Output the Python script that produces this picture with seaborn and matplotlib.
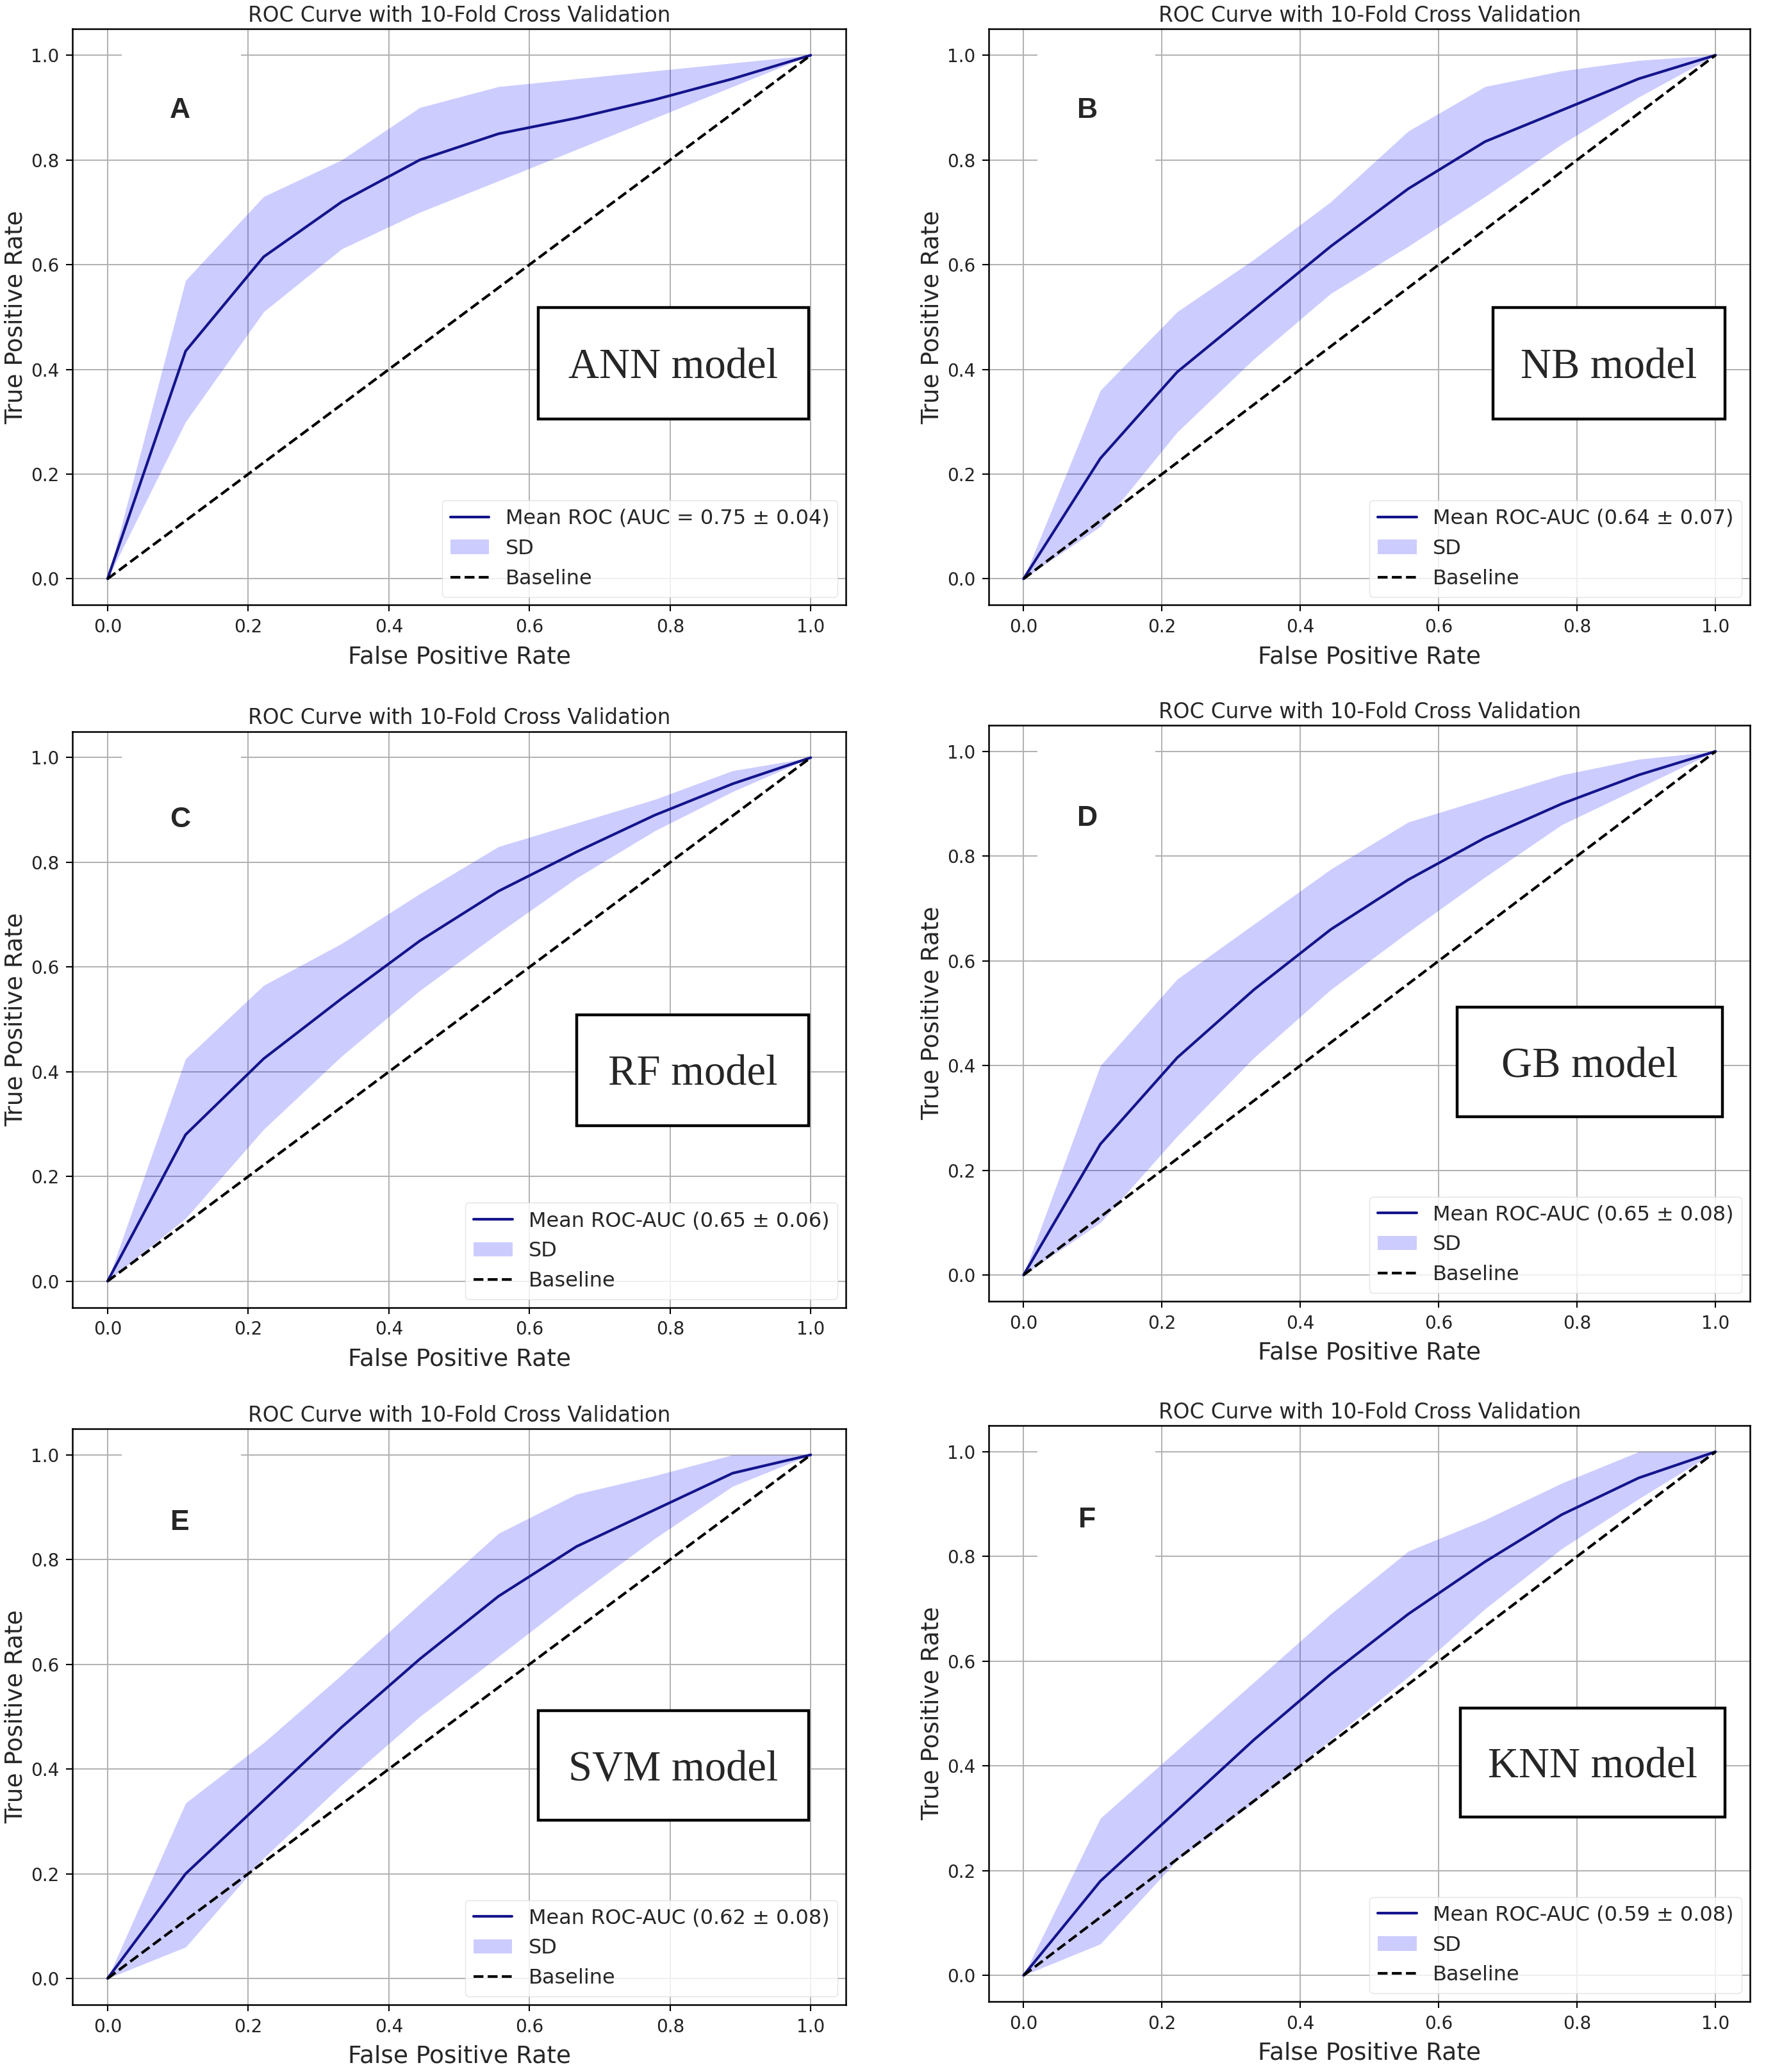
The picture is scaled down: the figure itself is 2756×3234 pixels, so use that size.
import numpy as np
import matplotlib
matplotlib.use("Agg")
import matplotlib.pyplot as plt
from matplotlib.patches import Rectangle
from matplotlib.lines import Line2D
from matplotlib.patches import Patch
import seaborn as sns

# false positive rate grid (10-fold interpolation points)
fpr = [0.0, 0.111, 0.222, 0.333, 0.444, 0.556, 0.667, 0.778, 0.889, 1.0]

panels = ["A", "B", "C", "D", "E", "F"]
models = ["ANN model", "NB model", "RF model", "GB model", "SVM model", "KNN model"]
auc_labels = [
    "Mean ROC (AUC = 0.75 ± 0.04)",
    "Mean ROC-AUC (0.64 ± 0.07)",
    "Mean ROC-AUC (0.65 ± 0.06)",
    "Mean ROC-AUC (0.65 ± 0.08)",
    "Mean ROC-AUC (0.62 ± 0.08)",
    "Mean ROC-AUC (0.59 ± 0.08)",
]

tpr_ann = [0.0, 0.435, 0.615, 0.72, 0.80, 0.85, 0.88, 0.915, 0.955, 1.0]
upper_ann = [0.0, 0.57, 0.73, 0.80, 0.90, 0.94, 0.955, 0.97, 0.985, 1.0]
lower_ann = [0.0, 0.30, 0.51, 0.63, 0.70, 0.76, 0.82, 0.88, 0.94, 1.0]

tpr_nb = [0.0, 0.23, 0.395, 0.515, 0.635, 0.745, 0.835, 0.895, 0.955, 1.0]
upper_nb = [0.0, 0.36, 0.51, 0.61, 0.72, 0.855, 0.94, 0.97, 0.99, 1.0]
lower_nb = [0.0, 0.10, 0.28, 0.42, 0.545, 0.635, 0.73, 0.83, 0.92, 1.0]

tpr_rf = [0.0, 0.28, 0.425, 0.54, 0.65, 0.745, 0.82, 0.89, 0.95, 1.0]
upper_rf = [0.0, 0.425, 0.565, 0.645, 0.74, 0.83, 0.875, 0.92, 0.975, 1.0]
lower_rf = [0.0, 0.12, 0.29, 0.43, 0.555, 0.665, 0.77, 0.86, 0.935, 1.0]

tpr_gb = [0.0, 0.25, 0.415, 0.545, 0.66, 0.755, 0.835, 0.90, 0.955, 1.0]
upper_gb = [0.0, 0.40, 0.565, 0.67, 0.775, 0.865, 0.91, 0.955, 0.985, 1.0]
lower_gb = [0.0, 0.10, 0.265, 0.415, 0.545, 0.655, 0.76, 0.86, 0.93, 1.0]

tpr_svm = [0.0, 0.20, 0.34, 0.48, 0.61, 0.73, 0.825, 0.895, 0.965, 1.0]
upper_svm = [0.0, 0.335, 0.45, 0.58, 0.715, 0.85, 0.925, 0.96, 1.0, 1.0]
lower_svm = [0.0, 0.06, 0.23, 0.37, 0.50, 0.615, 0.73, 0.84, 0.94, 1.0]

tpr_knn = [0.0, 0.18, 0.315, 0.45, 0.575, 0.69, 0.79, 0.88, 0.95, 1.0]
upper_knn = [0.0, 0.30, 0.43, 0.56, 0.69, 0.81, 0.87, 0.94, 1.0, 1.0]
lower_knn = [0.0, 0.06, 0.22, 0.33, 0.45, 0.57, 0.70, 0.815, 0.91, 1.0]

means = [tpr_ann, tpr_nb, tpr_rf, tpr_gb, tpr_svm, tpr_knn]
uppers = [upper_ann, upper_nb, upper_rf, upper_gb, upper_svm, upper_knn]
lowers = [lower_ann, lower_nb, lower_rf, lower_gb, lower_svm, lower_knn]

sns.set_theme(style="whitegrid")
plt.rcParams.update({
    "font.family": ["DejaVu Sans"],
    "axes.edgecolor": "black",
    "axes.linewidth": 1.8,
    "grid.color": "#b0b0b0",
    "grid.linewidth": 1.4,
    "xtick.bottom": True,
    "ytick.left": True,
    "xtick.major.size": 7,
    "ytick.major.size": 7,
    "xtick.major.width": 1.5,
    "ytick.major.width": 1.5,
    "xtick.color": "black",
    "ytick.color": "black",
    "xtick.labelcolor": "#222222",
    "ytick.labelcolor": "#222222",
})

fig = plt.figure(figsize=(27.56, 32.34), dpi=100)

# axes rectangles [left, bottom, width, height] in figure fraction
axes_pos = [
    [0.041, 0.708, 0.438, 0.278],
    [0.560, 0.708, 0.431, 0.278],
    [0.041, 0.369, 0.438, 0.278],
    [0.560, 0.372, 0.431, 0.278],
    [0.041, 0.0325, 0.438, 0.278],
    [0.560, 0.034, 0.431, 0.278],
]
# model name boxes [x0, y0, x1, y1] in axes fraction
box_pos = [
    [0.602, 0.323, 0.952, 0.516],
    [0.662, 0.323, 0.967, 0.516],
    [0.652, 0.316, 0.952, 0.508],
    [0.615, 0.320, 0.964, 0.510],
    [0.602, 0.320, 0.952, 0.510],
    [0.619, 0.320, 0.967, 0.510],
]
letter_pos = [(0.103, 0.894), (0.092, 0.894), (0.103, 0.881),
              (0.092, 0.872), (0.103, 0.871), (0.092, 0.869)]
cover_bottom = [0.82, 0.785, 0.82, 0.785, 0.82, 0.785]

for i in range(6):
    ax = fig.add_axes(axes_pos[i])
    sns.lineplot(x=fpr, y=means[i], ax=ax, color="#14148c", linewidth=3.0, zorder=4)
    ax.fill_between(fpr, lowers[i], uppers[i], color="blue", alpha=0.2, linewidth=0, zorder=3)
    sns.lineplot(x=[0, 1], y=[0, 1], ax=ax, color="black", linestyle="--", linewidth=3.0, zorder=4)

    ax.set_xlim(-0.05, 1.05)
    ax.set_ylim(-0.05, 1.05)
    ax.set_xticks([0.0, 0.2, 0.4, 0.6, 0.8, 1.0])
    ax.set_yticks([0.0, 0.2, 0.4, 0.6, 0.8, 1.0])
    ax.tick_params(labelsize=20, pad=8)
    for s in ax.spines.values():
        s.set_visible(True)
        s.set_color("black")
    ax.set_xlabel("False Positive Rate", fontsize=27, labelpad=10)
    ax.set_ylabel("True Positive Rate", fontsize=27, labelpad=4)
    ax.set_title("ROC Curve with 10-Fold Cross Validation", fontsize=23.5, pad=8)

    # white patch behind panel letter
    ax.add_patch(Rectangle((0.02, cover_bottom[i]), 0.17, 1.01 - cover_bottom[i],
                           facecolor="white", edgecolor="none", zorder=2))
    ax.text(letter_pos[i][0], letter_pos[i][1], panels[i], fontsize=32, fontweight="bold",
            family="Liberation Sans", ha="center", va="center", zorder=5)

    x0, y0, x1, y1 = box_pos[i]
    ax.add_patch(Rectangle((x0, y0), x1 - x0, y1 - y0, transform=ax.transAxes,
                           facecolor="white", edgecolor="black", linewidth=3.2, zorder=6))
    ax.text((x0 + x1) / 2, (y0 + y1) / 2 - 0.008, models[i], transform=ax.transAxes,
            fontsize=48, family="Liberation Serif", ha="center", va="center", zorder=7)

    handles = [
        Line2D([0], [0], color="#14148c", linewidth=3.0),
        Patch(facecolor="blue", alpha=0.2, edgecolor="none"),
        Line2D([0], [0], color="black", linestyle="--", linewidth=3.0),
    ]
    ax.legend(handles, [auc_labels[i], "SD", "Baseline"], loc="lower right",
              fontsize=23, labelspacing=0.5, framealpha=0.8, edgecolor="#dddddd",
              handlelength=1.9, borderaxespad=0.4)

fig.savefig("out.png", dpi=100)
